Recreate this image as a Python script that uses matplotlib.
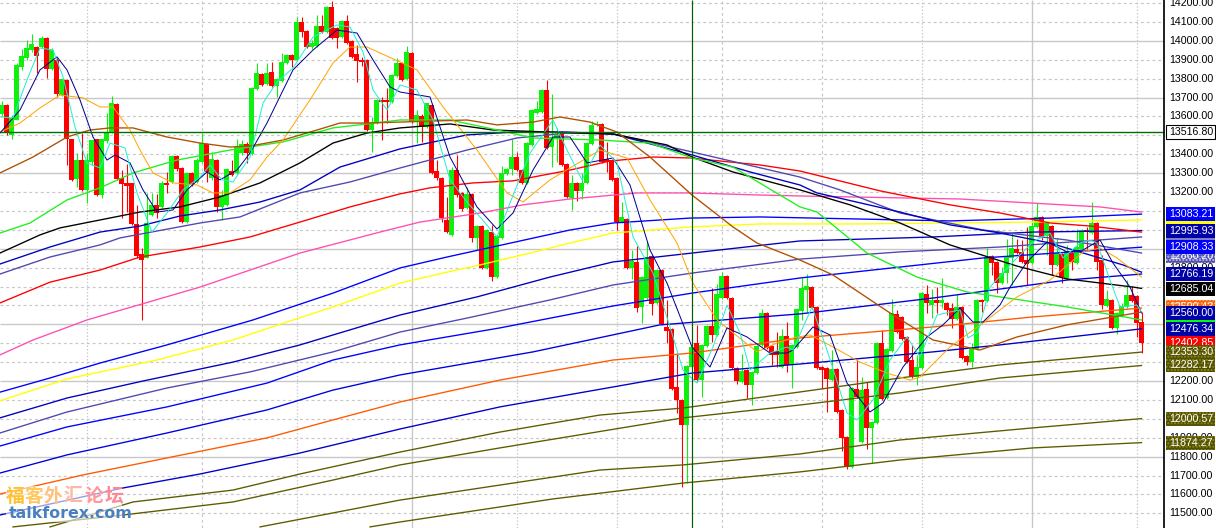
import matplotlib
matplotlib.use("Agg")
import matplotlib.pyplot as plt
from matplotlib.patches import Rectangle

# ---------- candle data (one candle per bar, bar 0 .. 228) ----------
opens = [13613,13661,13502,13581,13862,13909,13951,13967,13967,14015,
13851,13899,13713,13793,13480,13269,13369,13211,13359,13480,
13184,13470,13517,13666,13274,13248,13248,13031,12872,12851,
13078,13131,13121,13248,13253,13391,13327,13041,13301,13253,
13359,13454,13274,13369,13121,13131,13311,13301,13406,13454,
13401,13745,13825,13772,13835,13761,13788,13883,13925,13899,
14099,14052,13967,13973,14078,14047,14179,14068,14020,14105,
13999,13930,13899,13899,13528,13565,13687,13687,13676,13814,
13883,13798,13936,13570,13602,13544,13661,13311,13274,13052,
12972,13316,13195,13115,13190,12957,13020,12798,12988,12750,
12957,13295,13322,13385,13316,13248,13449,13618,13623,13740,
13438,13486,13517,13348,13168,13248,13206,13248,13454,13555,
13560,13375,13369,13274,13041,13057,12798,12830,12592,12639,
12861,12613,12787,12486,12475,12168,12100,11968,12274,12401,
12205,12385,12491,12444,12639,12756,12639,12269,12195,12258,
12179,12243,12391,12560,12385,12359,12274,12438,12285,12380,
12570,12681,12697,12592,12274,12269,12205,12264,12047,11904,
11745,12158,11877,12158,11952,11978,12401,12110,12359,12555,
12539,12433,12311,12221,12269,12660,12602,12629,12613,12613,
12586,12528,12592,12332,12300,12369,12629,12624,12861,12830,
12718,12771,12851,12899,12883,12840,12824,13015,13068,12967,
13020,12814,12872,12745,12877,12824,12899,12999,12983,13036,
12840,12597,12629,12481,12549,12592,12655,12650,12512]
highs = [13682,13666,13608,13883,13957,14004,14036,13973,14026,14020,
13962,13909,13798,13798,13480,13406,13512,13406,13475,13480,
13480,13618,13708,13671,13316,13348,13248,13131,12904,13195,
13195,13190,13259,13306,13396,13396,13332,13306,13306,13380,
13512,13459,13412,13375,13211,13327,13369,13480,13475,13465,
13756,13883,13830,13883,13888,13804,13936,13930,13930,14126,
14126,14057,14004,14137,14137,14184,14211,14073,14110,14137,
14004,13978,13915,13904,13597,13692,13703,13751,13825,13909,
13888,13973,13941,13634,13613,13671,13666,13369,13279,13174,
13332,13396,13200,13227,13195,13026,13026,13004,13026,12973,
13338,13327,13480,13412,13322,13465,13639,13682,13745,13793,
13719,13539,13523,13354,13290,13253,13301,13465,13576,13576,
13565,13465,13375,13279,13147,13062,12893,12915,12756,12941,
12867,12793,12793,12629,12481,12348,12105,12285,12385,12497,
12396,12497,12692,12713,12777,12761,12645,12274,12343,12264,
12253,12391,12581,12565,12391,12459,12475,12512,12396,12586,
12745,12766,12703,12597,12279,12274,12364,12269,12052,11909,
12168,12311,12221,12195,11989,12407,12470,12375,12634,12576,
12544,12438,12391,12338,12671,12708,12687,12697,12745,12618,
12613,12660,12597,12338,12401,12634,12634,12904,12867,12835,
12803,12951,12983,12951,12946,13014,13052,13142,13073,13041,
13026,12957,12877,12920,12883,13004,13004,13014,13147,13041,
12867,12681,12634,12565,12613,12734,12703,12655,12565]
lows = [13602,13502,13480,13581,13846,13899,13941,13830,13962,13804,
13846,13703,13708,13343,13259,13227,13206,13142,13343,13179,
13168,13459,13512,13264,13062,13094,13026,12851,12523,12851,
13073,13062,13115,13195,13248,13311,13036,13036,13232,13248,
13354,13253,13264,13094,13052,13126,13285,13295,13396,13354,
13396,13740,13761,13766,13756,13703,13782,13878,13862,13894,
14020,13962,13957,13967,14041,14041,14010,13962,14015,13983,
13909,13782,13867,13523,13412,13560,13475,13565,13671,13809,
13788,13793,13565,13459,13465,13539,13295,13264,13041,12983,
12967,13174,13099,13110,12936,12893,12793,12793,12729,12745,
12951,13290,13290,13311,13242,13242,13443,13613,13618,13428,
13332,13359,13338,13168,13105,13152,13163,13242,13449,13549,
13354,13306,13259,12999,13036,12793,12740,12565,12507,12634,
12549,12608,12497,12401,12152,12031,11639,11660,12269,12200,
12116,12380,12407,12439,12634,12634,12264,12184,12189,12110,
12073,12237,12385,12369,12285,12274,12269,12248,12163,12375,
12523,12565,12581,12264,12163,12036,12200,12031,11830,11734,
11740,12110,11872,11840,11766,11973,12100,12105,12354,12454,
12417,12295,12216,12179,12264,12560,12533,12560,12586,12549,
12481,12523,12316,12285,12274,12364,12565,12618,12761,12665,
12713,12718,12708,12872,12824,12708,12819,13010,12946,12867,
12761,12808,12718,12740,12787,12819,12893,12899,12978,12787,
12581,12592,12475,12449,12544,12586,12618,12433,12348]
closes = [13661,13517,13592,13872,13920,13962,13983,13920,14015,13851,
13951,13719,13798,13480,13264,13369,13211,13369,13475,13184,
13480,13517,13671,13269,13242,13232,13031,12861,12840,13036,
13131,13089,13248,13237,13391,13322,13041,13301,13242,13369,
13459,13306,13375,13121,13184,13322,13290,13438,13454,13406,
13751,13830,13766,13830,13761,13798,13888,13925,13899,14099,
14047,13967,13988,14078,14047,14179,14015,14015,14105,13988,
13915,13894,13888,13528,13570,13687,13676,13676,13819,13883,
13793,13941,13570,13608,13544,13671,13301,13274,13062,12988,
13316,13184,13110,13190,12957,13020,12798,12999,12750,12967,
13301,13322,13385,13316,13248,13459,13634,13639,13740,13433,
13491,13502,13343,13174,13248,13206,13248,13459,13555,13560,
13359,13359,13264,13041,13068,12798,12835,12586,12750,12856,
12608,12787,12502,12465,12157,12100,11968,12279,12380,12205,
12391,12491,12444,12660,12756,12639,12269,12200,12253,12179,
12248,12385,12560,12375,12338,12338,12438,12285,12391,12581,
12692,12703,12586,12269,12258,12211,12264,12036,11899,11745,
12163,12116,12152,11952,11983,12401,12105,12369,12560,12459,
12422,12301,12221,12274,12665,12613,12629,12613,12629,12576,
12528,12592,12322,12300,12369,12629,12618,12856,12824,12718,
12771,12861,12904,12877,12830,12819,13020,13068,12967,13036,
12814,12877,12750,12888,12830,12909,12999,12988,13036,12830,
12602,12634,12481,12560,12597,12655,12624,12507,12402]

# ---------- moving averages: bar positions and prices ----------
pink_x = [-0.3,6.3,17.1,39.7,59.7,75.7,83.7,95.7,104.3,113.7,127.1,137.7,151.7,159.7,191.7,219.7,228]
pink_y = [12338,12417,12523,12697,12877,12988,13041,13089,13132,13163,13195,13195,13184,13179,13163,13121,13094]
red_x = [-0.3,9.7,19.7,27.7,39.7,49.7,59.7,69.7,79.7,85.7,94.3,102.3,113.7,121.7,130.3,137.7,151.7,159.7,175.7,189.7,199.7,209.7,217.7,228]
red_y = [12613,12723,12787,12856,12909,12962,13041,13121,13190,13222,13248,13259,13316,13364,13385,13380,13343,13311,13206,13132,13089,13036,13020,12988]
black_x = [-0.3,7.7,11.7,19.7,27.7,35.7,43.7,51.7,59.7,66.3,73.1,79.7,89.7,98.3,109.7,122.3,133.1,138.1,146.3,159.7,169.7,179.7,189.7,203.1,213.1,226.3,228]
black_y = [12877,12973,13010,13052,13094,13121,13174,13248,13354,13459,13512,13539,13560,13528,13517,13507,13449,13385,13306,13211,13132,13036,12920,12808,12740,12697,12690]
navy_x = [-0.3,9.7,19.7,27.7,35.7,43.7,51.7,59.7,67.7,73.7,79.7,93.1,102.3,113.1,122.3,138.1,149.7,159.7,163.1,179.7,189.7,199.7,209.7,224.3,228]
navy_y = [12819,12909,12988,13020,13073,13105,13147,13211,13332,13380,13428,13502,13517,13517,13507,13396,13306,13237,13195,13094,13026,12983,12930,12814,12776]
slate_x = [-0.3,9.7,19.7,23.7,39.7,47.7,59.7,69.7,79.7,93.1,103.1,113.1,122.3,138.1,159.7,167.7,179.7,196.3,213.1,228]
slate_y = [12766,12856,12920,12957,13036,13068,13195,13253,13327,13422,13486,13512,13507,13412,13279,13211,13089,12999,12946,12877]
blue_e_x = [-0.3,9.7,19.7,33.1,50.3,66.3,79.7,89.1,113.7,122.3,137.7,151.7,189.7,209.7,228]
blue_e_y = [12141,12216,12295,12391,12523,12665,12798,12856,12999,13036,13062,13068,13047,13062,13083]
yellow_x = [-0.3,13.1,31.1,46.3,58.3,66.3,79.7,89.1,95.7,105.7,113.7,122.3,137.7,151.7,171.7,206.3,228]
yellow_y = [12095,12211,12311,12417,12523,12592,12718,12776,12814,12877,12930,12983,13015,13031,13031,13041,13052]
navy_g_x = [-0.3,13.1,28.3,46.3,59.7,76.3,79.7,95.1,109.7,122.3,138.1,159.7,186.3,206.3,228]
navy_g_y = [12005,12110,12200,12300,12391,12523,12549,12645,12750,12830,12877,12941,12962,12988,12996]
slate_h_x = [-0.3,13.1,33.1,49.7,66.3,79.7,93.1,109.7,122.3,138.1,159.7,179.7,199.7,228]
slate_h_y = [11925,12036,12163,12248,12354,12459,12533,12629,12708,12771,12845,12883,12909,12962]
blue_i_x = [-0.3,13.1,33.1,53.1,66.3,79.7,99.7,122.3,138.1,159.7,196.3,228]
blue_i_y = [11856,11957,12063,12189,12311,12391,12481,12597,12665,12745,12851,12908]
blue_j_x = [-0.3,13.1,33.1,53.1,66.3,79.7,106.3,131.7,159.7,186.3,213.1,228]
blue_j_y = [11713,11809,11925,12047,12152,12232,12354,12497,12555,12639,12734,12766]
orange_x = [-0.3,16.3,33.1,53.1,66.3,79.7,99.7,122.3,138.1,159.7,186.3,206.3,228]
orange_y = [11602,11703,11793,11899,11994,12089,12205,12311,12348,12428,12486,12539,12586]
blue_l_x = [-0.3,24.3,39.7,59.7,79.7,99.7,138.1,159.7,186.3,199.7,228]
blue_l_y = [11491,11634,11708,11819,11946,12063,12242,12290,12354,12391,12476]
olive1_x = [9.7,26.3,46.3,59.7,79.7,99.7,119.7,136.3,159.7,179.7,199.7,228]
olive1_y = [11428,11560,11623,11708,11824,11930,12020,12057,12142,12216,12285,12353]
olive2_x = [2.3,24.3,46.3,66.3,79.7,99.7,136.3,159.7,179.7,199.7,228]
olive2_y = [11428,11491,11560,11676,11756,11846,12005,12073,12137,12216,12282]
olive3_x = [51.7,66.3,79.7,119.7,136.3,159.7,179.7,206.3,228]
olive3_y = [11428,11502,11570,11729,11756,11814,11888,11952,12001]
olive4_x = [73.7,79.7,110.3,136.3,159.7,179.7,206.3,228]
olive4_y = [11428,11454,11576,11660,11719,11782,11846,11874]
brown_x = [-0.3,6.3,13.1,17.7,21.7,26.3,33.1,39.7,45.7,49.7,56.3,63.1,67.7,73.1,79.7,93.1,99.1,106.3,111.7,117.7,123.1,129.7,138.1,146.3,151.1,159.7,166.3,177.7,186.3,195.7,203.1,213.1,228]
brown_y = [13301,13385,13491,13528,13539,13539,13491,13459,13438,13443,13475,13528,13565,13565,13570,13581,13555,13570,13597,13570,13517,13385,13184,13015,12930,12840,12761,12560,12417,12364,12433,12497,12565]
green_x = [-0.3,5.7,13.1,19.7,26.3,35.1,45.7,56.3,66.3,79.7,89.7,98.3,106.3,119.7,129.7,138.1,146.3,159.7,163.1,173.1,183.1,193.1,213.1,228]
green_y = [12983,13036,13158,13222,13301,13369,13422,13465,13539,13581,13581,13533,13486,13475,13459,13380,13332,13121,13094,12877,12750,12671,12592,12523]
fast_orange_x = [-0.3,3.7,7.7,11.7,16.3,19.7,22.3,25.7,27.7,30.3,34.3,39.1,42.3,45.7,49.7,53.1,56.3,61.7,66.3,69.7,73.1,79.7,83.1,88.3,95.1,101.1,104.3,109.7,119.7,125.1,129.7,135.1,138.3,143.1,151.1,155.1,158.3,161.7,166.3,171.7,177.1,181.7,183.7,189.7,196.3,203.1,209.7,216.3,219.7,223.1,228]
fast_orange_y = [13517,13565,13645,13713,13698,13650,13650,13528,13422,13301,13248,13237,13195,13195,13264,13385,13475,13687,13883,13967,13967,13888,13846,13650,13422,13195,13147,13264,13422,13380,13158,12930,12718,12523,12354,12401,12428,12444,12380,12300,12242,12205,12221,12380,12507,12645,12734,12883,12904,12851,12750]
fast_navy_x = [-0.3,3.7,7.7,11.1,13.1,15.7,18.3,21.1,22.7,25.7,28.3,31.1,34.3,37.1,41.1,43.7,47.1,49.7,53.1,58.3,62.3,67.1,71.1,74.3,77.7,79.7,85.7,89.7,95.1,99.1,102.3,106.3,110.3,113.7,117.1,122.3,125.7,129.7,133.1,138.1,141.7,145.1,149.1,153.7,157.1,158.3,162.3,165.7,169.1,173.7,176.3,180.3,185.1,188.3,191.7,194.3,196.3,199.7,201.7,205.1,209.1,213.1,216.3,219.7,222.3,225.7,228]
fast_navy_y = [13512,13634,13846,13915,13846,13687,13491,13369,13396,13354,13211,13094,13105,13211,13306,13264,13316,13406,13565,13846,13951,14057,14041,13899,13756,13729,13703,13385,13121,13004,13089,13316,13491,13491,13354,13380,13237,12893,12718,12380,12274,12481,12433,12348,12348,12364,12486,12444,12189,12036,12084,12274,12433,12497,12586,12512,12512,12602,12697,12830,12936,12883,12893,12946,12824,12697,12560]
cyan_x = [-0.3,2.3,5.1,7.7,10.3,12.3,14.7,17.1,19.7,21.7,24.7,27.1,30.1,33.1,36.3,39.7,41.7,44.1,46.3,49.7,52.3,55.1,58.3,62.3,67.1,69.7,72.3,74.3,77.1,79.7,83.1,86.3,89.7,93.1,95.7,99.1,101.7,105.7,110.3,113.1,116.1,119.7,123.1,126.3,130.3,133.7,136.3,139.1,142.3,145.1,147.7,149.7,153.7,157.1,158.3,162.1,165.1,169.1,171.1,174.3,177.7,181.1,183.7,187.1,189.7,191.7,193.3,195.3,197.7,202.3,206.3,209.7,212.3,215.7,217.7,219.1,221.7,223.7,227.1,228]
cyan_y = [13597,13592,13793,13962,13951,13809,13544,13354,13327,13459,13433,13195,12988,13089,13211,13279,13343,13264,13253,13385,13671,13782,13856,14020,14084,14073,13941,13740,13634,13766,13740,13581,13264,13147,13068,12962,13142,13406,13581,13422,13264,13449,13354,12962,12771,12486,12258,12189,12380,12602,12454,12258,12348,12380,12364,12592,12364,12031,11994,12100,12311,12433,12327,12549,12565,12576,12428,12459,12697,12830,12936,12983,12851,12930,12946,12930,12734,12592,12602,12565]

# ---------- axis values and price tags ----------
grid_prices = list(range(11500, 14300, 100))
solid_prices = [14000, 13700, 13300, 12900, 12500, 12200, 11800]
grid_bars_solid = [82, 206]
grid_bars_dashed = [40, 144, 164]
grid_bars_dotted = [17, 59, 103, 123, 184, 227]
tick_labels = [14200,14100,14000,13900,13800,13700,13600,13400,13300,13200,12800,
               12200,12100,11900,11800,11700,11600,11500]
cross_bar = 138
cross_price = 13516.80

# tags whose text is wholly covered: only a strip of colour shows
strip_prices = [13035, 12950, 12530]
strip_colors = ["#ffff00", "#8080c0", "#00ff00"]

# drawn in this order, later tags cover earlier ones
tags = [
    (12860.20, "12860.20", "#5050b0", "#c0c0e8"),
    (12590.43, "12590.43", "#ff6000", "#ffb080"),
    (12402.85, "12402.85", "#ff0000", None),
    (13083.21, "13083.21", "#0000ff", None),
    (12995.93, "12995.93", "#0000a8", None),
    (12908.33, "12908.33", "#0000ff", None),
    (12766.19, "12766.19", "#0000a8", None),
    (12685.04, "12685.04", "#000000", None),
    (12560.00, "12560.00", "#0000a8", None),
    (12476.34, "12476.34", "#0000a8", None),
    (12353.30, "12353.30", "#505000", "#908820"),
    (12282.17, "12282.17", "#505000", "#908820"),
    (12000.57, "12000.57", "#505000", "#908820"),
    (11874.27, "11874.27", "#505000", "#908820"),
]

# ---------- figure ----------
W, H = 1216, 528
fig = plt.figure(figsize=(W / 100, H / 100), dpi=100)
ax = fig.add_axes([0, 0, 1, 1])
ax.axis("off")
px = 0.72  # one pixel in points


def bar_at(xp):
    return (xp - 1.5) / 5.0


def price_at(yp):
    return 14200 - (yp - 3) / 0.189


ax.set_xlim(bar_at(0), bar_at(W))
ax.set_ylim(price_at(H), price_at(0))
x_right = bar_at(1164)
x_left = bar_at(0)

# grid
for p in grid_prices:
    if p in solid_prices:
        ax.hlines(p, x_left, x_right, color="#c8c8c8", lw=1.4 * px, zorder=1)
    else:
        ax.hlines(p, x_left, x_right, color="#c8c8c8", lw=1.2 * px, linestyles=(0, (2.4, 2.4)), zorder=1)
ax.vlines(grid_bars_solid, price_at(H), price_at(0), color="#c8c8c8", lw=1.4 * px, zorder=1)
ax.vlines(grid_bars_dashed, price_at(H), price_at(0), color="#c8c8c8", lw=1.2 * px, linestyles=(0, (2.4, 2.4)), zorder=1)
ax.vlines(grid_bars_dotted, price_at(H), price_at(0), color="#c8c8c8", lw=1.2 * px, linestyles=(0, (1.2, 1.6)), zorder=1)

# candles
UP, DOWN = "#10f010", "#ff0000"
for i, (o, h, l, c) in enumerate(zip(opens, highs, lows, closes)):
    col = UP if c >= o else DOWN
    ax.vlines(i, l, h, color=col, lw=1.1 * px, zorder=2)
    ax.bar(i, abs(c - o) if abs(c - o) > 5 else 5, bottom=min(o, c), width=1.04, color=col, lw=0,
           antialiased=False, zorder=3)

# moving averages
thick = 1.35 * px
thin = 1.0 * px
series = [
    (olive4_x, olive4_y, "#5c5c00", thick), (olive3_x, olive3_y, "#5c5c00", thick),
    (olive2_x, olive2_y, "#5c5c00", thick), (olive1_x, olive1_y, "#5c5c00", thick),
    (blue_l_x, blue_l_y, "#0000c8", thick), (orange_x, orange_y, "#ff5a00", thick),
    (blue_j_x, blue_j_y, "#0000e0", thick), (blue_i_x, blue_i_y, "#0000ff", thick),
    (slate_h_x, slate_h_y, "#5048b0", thick), (navy_g_x, navy_g_y, "#0000c0", thick),
    (yellow_x, yellow_y, "#ffff00", thick), (blue_e_x, blue_e_y, "#0000ff", thick),
    (pink_x, pink_y, "#ff50b0", thick), (red_x, red_y, "#ff0000", thick),
    (slate_x, slate_y, "#5048b0", thick), (navy_x, navy_y, "#0000c0", thick),
    (black_x, black_y, "#000000", thick), (green_x, green_y, "#20f020", thick),
    (brown_x, brown_y, "#b05000", thick), (fast_orange_x, fast_orange_y, "#ffa500", thin),
    (fast_navy_x, fast_navy_y, "#000090", thin), (cyan_x, cyan_y, "#20f0d0", thin),
]
for xs, ys, col, lw in series:
    ax.plot(xs, ys, color=col, lw=lw, zorder=4, solid_joinstyle="round")

# crosshair
ax.hlines(cross_price, x_left, x_right, color="#007000", lw=1.4 * px, zorder=5)
ax.vlines(cross_bar, price_at(H), price_at(0), color="#006000", lw=1.2 * px, zorder=5)

# watermark
ax.add_patch(Rectangle((bar_at(6), price_at(522)), bar_at(122) - bar_at(6), price_at(486) - price_at(522),
                       facecolor="white", alpha=0.6, lw=0, zorder=6))
wm_chars = ["福", "客", "外", "汇", "论", "坛"]
wm_cols = ["#ffc030", "#ffc860", "#ffc080", "#ffb8a0", "#ff9898", "#ff8898"]
wm_px = [15, 34, 53, 73, 94, 114]
for ch, col, xp in zip(wm_chars, wm_cols, wm_px):
    ax.text(bar_at(xp), price_at(496), ch, color=col, fontsize=13.5, fontweight="bold",
            family=["Noto Sans CJK SC", "DejaVu Sans"], ha="center", va="center", zorder=7)
ax.text(bar_at(9), price_at(513), "talkforex.com", color="#4a80c0", fontsize=11.4, fontweight="bold",
        family="DejaVu Sans", ha="left", va="center", zorder=7)

# right price panel
ax.vlines(x_right, price_at(H), price_at(0), color="black", lw=1.7 * px, zorder=8)
label_x = bar_at(1169)
for p in tick_labels:
    ax.text(label_x, p, f"{p:.2f}", color="black", fontsize=7.7, family="Liberation Sans",
            ha="left", va="center", zorder=9)

box_x0 = bar_at(1166)
box_w = bar_at(1215) - box_x0
box_h = 14 / 0.189
z = 10
for price, face in zip(strip_prices, strip_colors):
    ax.add_patch(Rectangle((box_x0, price - box_h / 2), box_w, box_h, facecolor=face, lw=0, zorder=z))
    z += 1
for price, text, face, hatch_col in tags:
    ax.add_patch(Rectangle((box_x0, price - box_h / 2), box_w, box_h, facecolor=face, lw=0, zorder=z))
    if hatch_col:
        ax.add_patch(Rectangle((box_x0, price - box_h / 2), box_w, box_h, facecolor="none",
                               edgecolor=hatch_col, hatch=".....", lw=0, zorder=z))
    ax.text(label_x, price, text, color="white", fontsize=7.7, family="Liberation Sans",
            ha="left", va="center", zorder=z + 0.5)
    z += 1

ax.add_patch(Rectangle((box_x0, cross_price - box_h / 2), box_w, box_h, facecolor="white",
                       edgecolor="black", lw=1.1 * px, zorder=z))
ax.text(label_x, cross_price, f"{cross_price:.2f}", color="black", fontsize=7.7,
        family="Liberation Sans", ha="left", va="center", zorder=z + 0.5)

fig.savefig("out.png", dpi=100, facecolor="white")
